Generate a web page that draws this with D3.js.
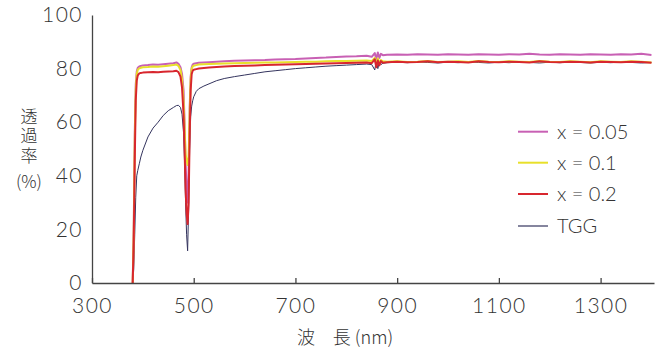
<!DOCTYPE html>
<html><head><meta charset="utf-8">
<script src="https://cdn.jsdelivr.net/npm/d3@7"></script>
<style>
body{margin:0;background:#fff;}
svg{display:block;}
text{font-family:"Lato","Noto Sans CJK JP",sans-serif;font-weight:300;fill:#333;}
.jp{font-family:"Noto Sans CJK JP",sans-serif;}
</style></head><body>
<svg id="c" width="660" height="355"></svg>
<script>
const wavelengths = [380,382,384,386,388,390,393,396,400,410,420,430,440,450,460,466,470,474,477,480,482,484,486,488,490,492,494,496,498,500,505,510,520,530,545,560,580,600,620,640,660,680,700,720,740,760,780,800,820,840,850,856,859,862,865,868,872,880,900,920,940,960,980,1000,1020,1040,1060,1080,1100,1120,1140,1160,1180,1200,1220,1240,1260,1280,1300,1320,1340,1360,1380,1400];
const x005 = [0,20,55,74,79,80.3,80.8,81,81.2,81.3,81.5,81.4,81.6,81.8,82,82.3,81.8,80.5,78,72,60,45,35,30,42,65,77,80.5,81.5,81.8,82,82.2,82.3,82.4,82.6,82.7,82.9,83,83.1,83.2,83.4,83.5,83.6,83.8,84,84.1,84.3,84.5,84.6,84.8,84.4,85.8,83.5,86,84,85.5,85,85.2,85.3,85.2,85.4,85.3,85.2,85.4,85.3,85.2,85.4,85.3,85.2,85.4,85.3,85.5,85.3,85.2,85.4,85.3,85.2,85.4,85.3,85.2,85.4,85.3,85.5,85.1];
const x01 = [0,18,52,72,78,79.6,80.1,80.3,80.5,80.6,80.8,80.7,80.9,81.1,81.3,81.5,81,79.5,76,68,58,48,46,44,47,63,76,80,80.8,81.1,81.3,81.5,81.6,81.7,81.8,81.9,82,82.1,82.2,82.3,82.3,82.4,82.5,82.6,82.6,82.7,82.8,82.8,82.9,83,82.8,84,81.5,83.8,82,83.2,82.7,82.6,82.7,82.5,82.6,82.8,82.5,82.6,82.7,82.5,82.8,82.6,82.5,82.7,82.6,82.5,82.8,82.6,82.5,82.7,82.6,82.4,82.7,82.6,82.5,82.7,82.6,82.3];
const x02 = [0,15,45,68,75.5,77.5,78.2,78.4,78.5,78.6,78.7,78.6,78.8,78.9,79,79.2,78.7,77,73,63,50,35,26,22,30,55,72,78,79.2,79.6,79.8,80,80.2,80.4,80.6,80.8,81,81.1,81.2,81.3,81.4,81.5,81.6,81.7,81.8,81.9,82,82.1,82.2,82.3,82,83.5,80.5,83,81.2,82.8,82.2,82.4,82.6,82.4,82.5,82.7,82.4,82.6,82.5,82.3,82.7,82.5,82.4,82.6,82.5,82.3,82.7,82.5,82.4,82.6,82.5,82.3,82.6,82.5,82.4,82.6,82.5,82.2];
const tgg = [0,5,18,32,40,42,44.5,47,49.5,54.5,57.8,60,62.5,64.3,65.5,66.2,66.3,65.5,63,56,45,30,18,12,28,50,62,66,68,69.5,71.5,72.5,73.5,74.3,75.5,76.3,77,77.6,78.2,78.8,79.2,79.6,80,80.3,80.6,80.9,81.1,81.3,81.5,81.7,81.5,79.5,83,80,82.5,81.5,82,82.2,82.4,82.2,82.5,82.3,82.1,82.4,82.2,82.5,82.3,82.1,82.4,82.2,82.5,82.3,82.1,82.4,82.2,82.5,82.3,82.1,82.4,82.2,82.5,82.3,82.1,82.3];
const seriesNames = ["x = 0.05","x = 0.1","x = 0.2","TGG"];
const seriesValues = [x005, x01, x02, tgg];
const seriesColors = ["#c860b4","#e8e02a","#d8262e","#34345e"];
const seriesWidths = [2,2,2,1];
const xTicks = [300,500,700,900,1100,1300];
const yTicks = [0,20,40,60,80,100];

const svg = d3.select("#c");
const x = d3.scaleLinear().domain([300,1405]).range([92,654]);
const y = d3.scaleLinear().domain([0,100]).range([283,15]);

const line = d3.line().x((d,i)=>x(wavelengths[i])).y(d=>y(d));
[3,0,1,2].forEach(k=>{
  svg.append("path").datum(seriesValues[k]).attr("d",line)
    .attr("fill","none").attr("stroke",seriesColors[k])
    .attr("stroke-width",seriesWidths[k]).attr("stroke-linejoin","round");
});

const xa = svg.append("g").attr("transform","translate(0,283)")
  .call(d3.axisBottom(x).tickValues(xTicks).tickFormat(d3.format("d")).tickSizeInner(-5).tickSizeOuter(0).tickPadding(15));
xa.select(".domain").attr("stroke","#444").attr("stroke-width",1.3);
xa.selectAll(".tick line").attr("stroke","#444").attr("stroke-width",1.3);
xa.selectAll("text").attr("font-size",21).attr("letter-spacing","1.5px").attr("fill","#333");

const ya = svg.append("g").attr("transform","translate(92,0)")
  .call(d3.axisLeft(y).tickValues(yTicks).tickSize(0).tickPadding(9));
ya.select(".domain").attr("stroke","#444").attr("stroke-width",1.3);
ya.selectAll("text").attr("font-size",21).attr("letter-spacing","1.5px").attr("fill","#333");
svg.selectAll("g").attr("font-family",null);

// y title: vertical kanji + (%)
svg.append("text").attr("class","jp").attr("x",29).attr("y",108)
  .attr("writing-mode","vertical-rl").attr("font-size",17).attr("letter-spacing","2.5px").text("透過率");
svg.append("text").attr("class","jp").attr("x",29).attr("y",188).attr("text-anchor","middle")
  .attr("font-size",17).text("(%)");

// x title
svg.append("text").attr("class","jp").attr("x",345).attr("y",344).attr("text-anchor","middle")
  .attr("font-size",18).attr("xml:space","preserve").text("波　長 (nm)");

// legend
const legY = [131.7,162.7,194,226];
seriesNames.forEach((n,i)=>{
  svg.append("line").attr("x1",518).attr("x2",548).attr("y1",legY[i]).attr("y2",legY[i])
    .attr("stroke",seriesColors[i]).attr("stroke-width",i===3?1.2:2);
  svg.append("text").attr("x",557).attr("y",legY[i]).attr("dy","0.36em")
    .attr("font-size",20).text(n);
});
</script></body></html>
